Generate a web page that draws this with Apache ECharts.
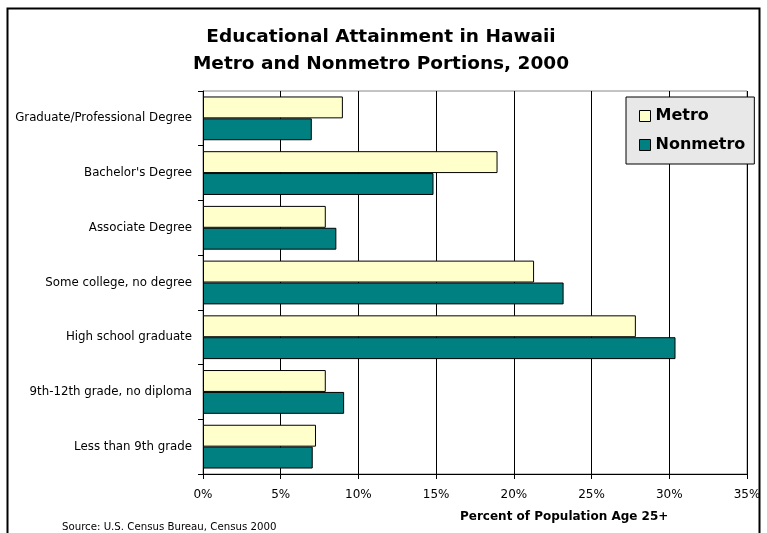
<!DOCTYPE html>
<html><head><meta charset="utf-8">
<script src="https://cdn.jsdelivr.net/npm/echarts@6/dist/echarts.min.js"></script>
<style>html,body{margin:0;padding:0;background:#fff}#c{width:767px;height:533px}</style>
</head><body><div id="c"></div>
<script>
var categories = ["Graduate/Professional Degree","Bachelor's Degree","Associate Degree","Some college, no degree","High school graduate","9th-12th grade, no diploma","Less than 9th grade"];
var metro = [9.0, 18.95, 7.9, 21.3, 27.85, 7.9, 7.27];
var nonmetro = [7.0, 14.83, 8.58, 23.2, 30.4, 9.08, 7.06];
var xTicks = {min: 0, max: 35, interval: 5};
var titleLines = ["Educational Attainment in Hawaii", "Metro and Nonmetro Portions, 2000"];
var xAxisTitle = "Percent of Population Age 25+";
var sourceText = "Source: U.S. Census Bureau, Census 2000";

var chart = echarts.init(document.getElementById('c'), null, {renderer: 'canvas'});
chart.setOption({
  animation: false,
  backgroundColor: '#fff',
  title: {
    text: titleLines.join('\n'),
    left: 381, top: 24, textAlign: 'center', padding: 0,
    textStyle: {fontFamily: 'DejaVu Sans', fontWeight: 'bold', fontSize: 18.5, lineHeight: 27, color: '#000'}
  },
  legend: {
    orient: 'vertical', left: 626, top: 97,
    backgroundColor: '#e8e8e8', borderColor: '#000', borderWidth: 1,
    padding: [11, 9, 11, 13], itemGap: 13,
    itemWidth: 11, itemHeight: 11, icon: 'rect',
    itemStyle: {borderColor: '#000', borderWidth: 1},
    textStyle: {fontFamily: 'DejaVu Sans', fontWeight: 'bold', fontSize: 16, color: '#000'},
    data: ['Metro', 'Nonmetro']
  },
  grid: {left: 203, top: 91, width: 544, height: 383, show: true, borderColor: '#888', borderWidth: 1, backgroundColor: '#fff', containLabel: false},
  xAxis: {
    type: 'value', min: xTicks.min, max: xTicks.max, interval: xTicks.interval,
    axisLine: {show: true, lineStyle: {color: '#000', width: 1}},
    axisTick: {show: true, length: 5, lineStyle: {color: '#000'}},
    axisLabel: {formatter: '{value}%', fontFamily: 'DejaVu Sans', fontSize: 12, color: '#000', margin: 15},
    splitLine: {show: true, lineStyle: {color: '#000', width: 1}}
  },
  yAxis: {
    type: 'category', data: categories, inverse: true,
    axisLine: {show: true, lineStyle: {color: '#000', width: 1}},
    axisTick: {show: true, length: 5, lineStyle: {color: '#000'}},
    axisLabel: {fontFamily: 'DejaVu Sans', fontSize: 11.8, color: '#000', margin: 11}
  },
  series: [
    {name: 'Metro', type: 'bar', data: metro, barGap: '0%', barCategoryGap: '20%',
     itemStyle: {color: '#FFFFCC', borderColor: '#000', borderWidth: 1}},
    {name: 'Nonmetro', type: 'bar', data: nonmetro, barGap: '0%', barCategoryGap: '20%',
     itemStyle: {color: '#008080', borderColor: '#000', borderWidth: 1}}
  ],
  graphic: [
    {type: 'rect', shape: {x: 7.5, y: 8.5, width: 752, height: 540}, style: {fill: 'none', stroke: '#000', lineWidth: 2}, silent: true},
    {type: 'text', left: 460, top: 511, style: {text: xAxisTitle, font: 'bold 12px "DejaVu Sans"', fill: '#000'}},
    {type: 'text', left: 62, top: 522, style: {text: sourceText, font: '10.2px "DejaVu Sans"', fill: '#000'}}
  ]
});
</script></body></html>
